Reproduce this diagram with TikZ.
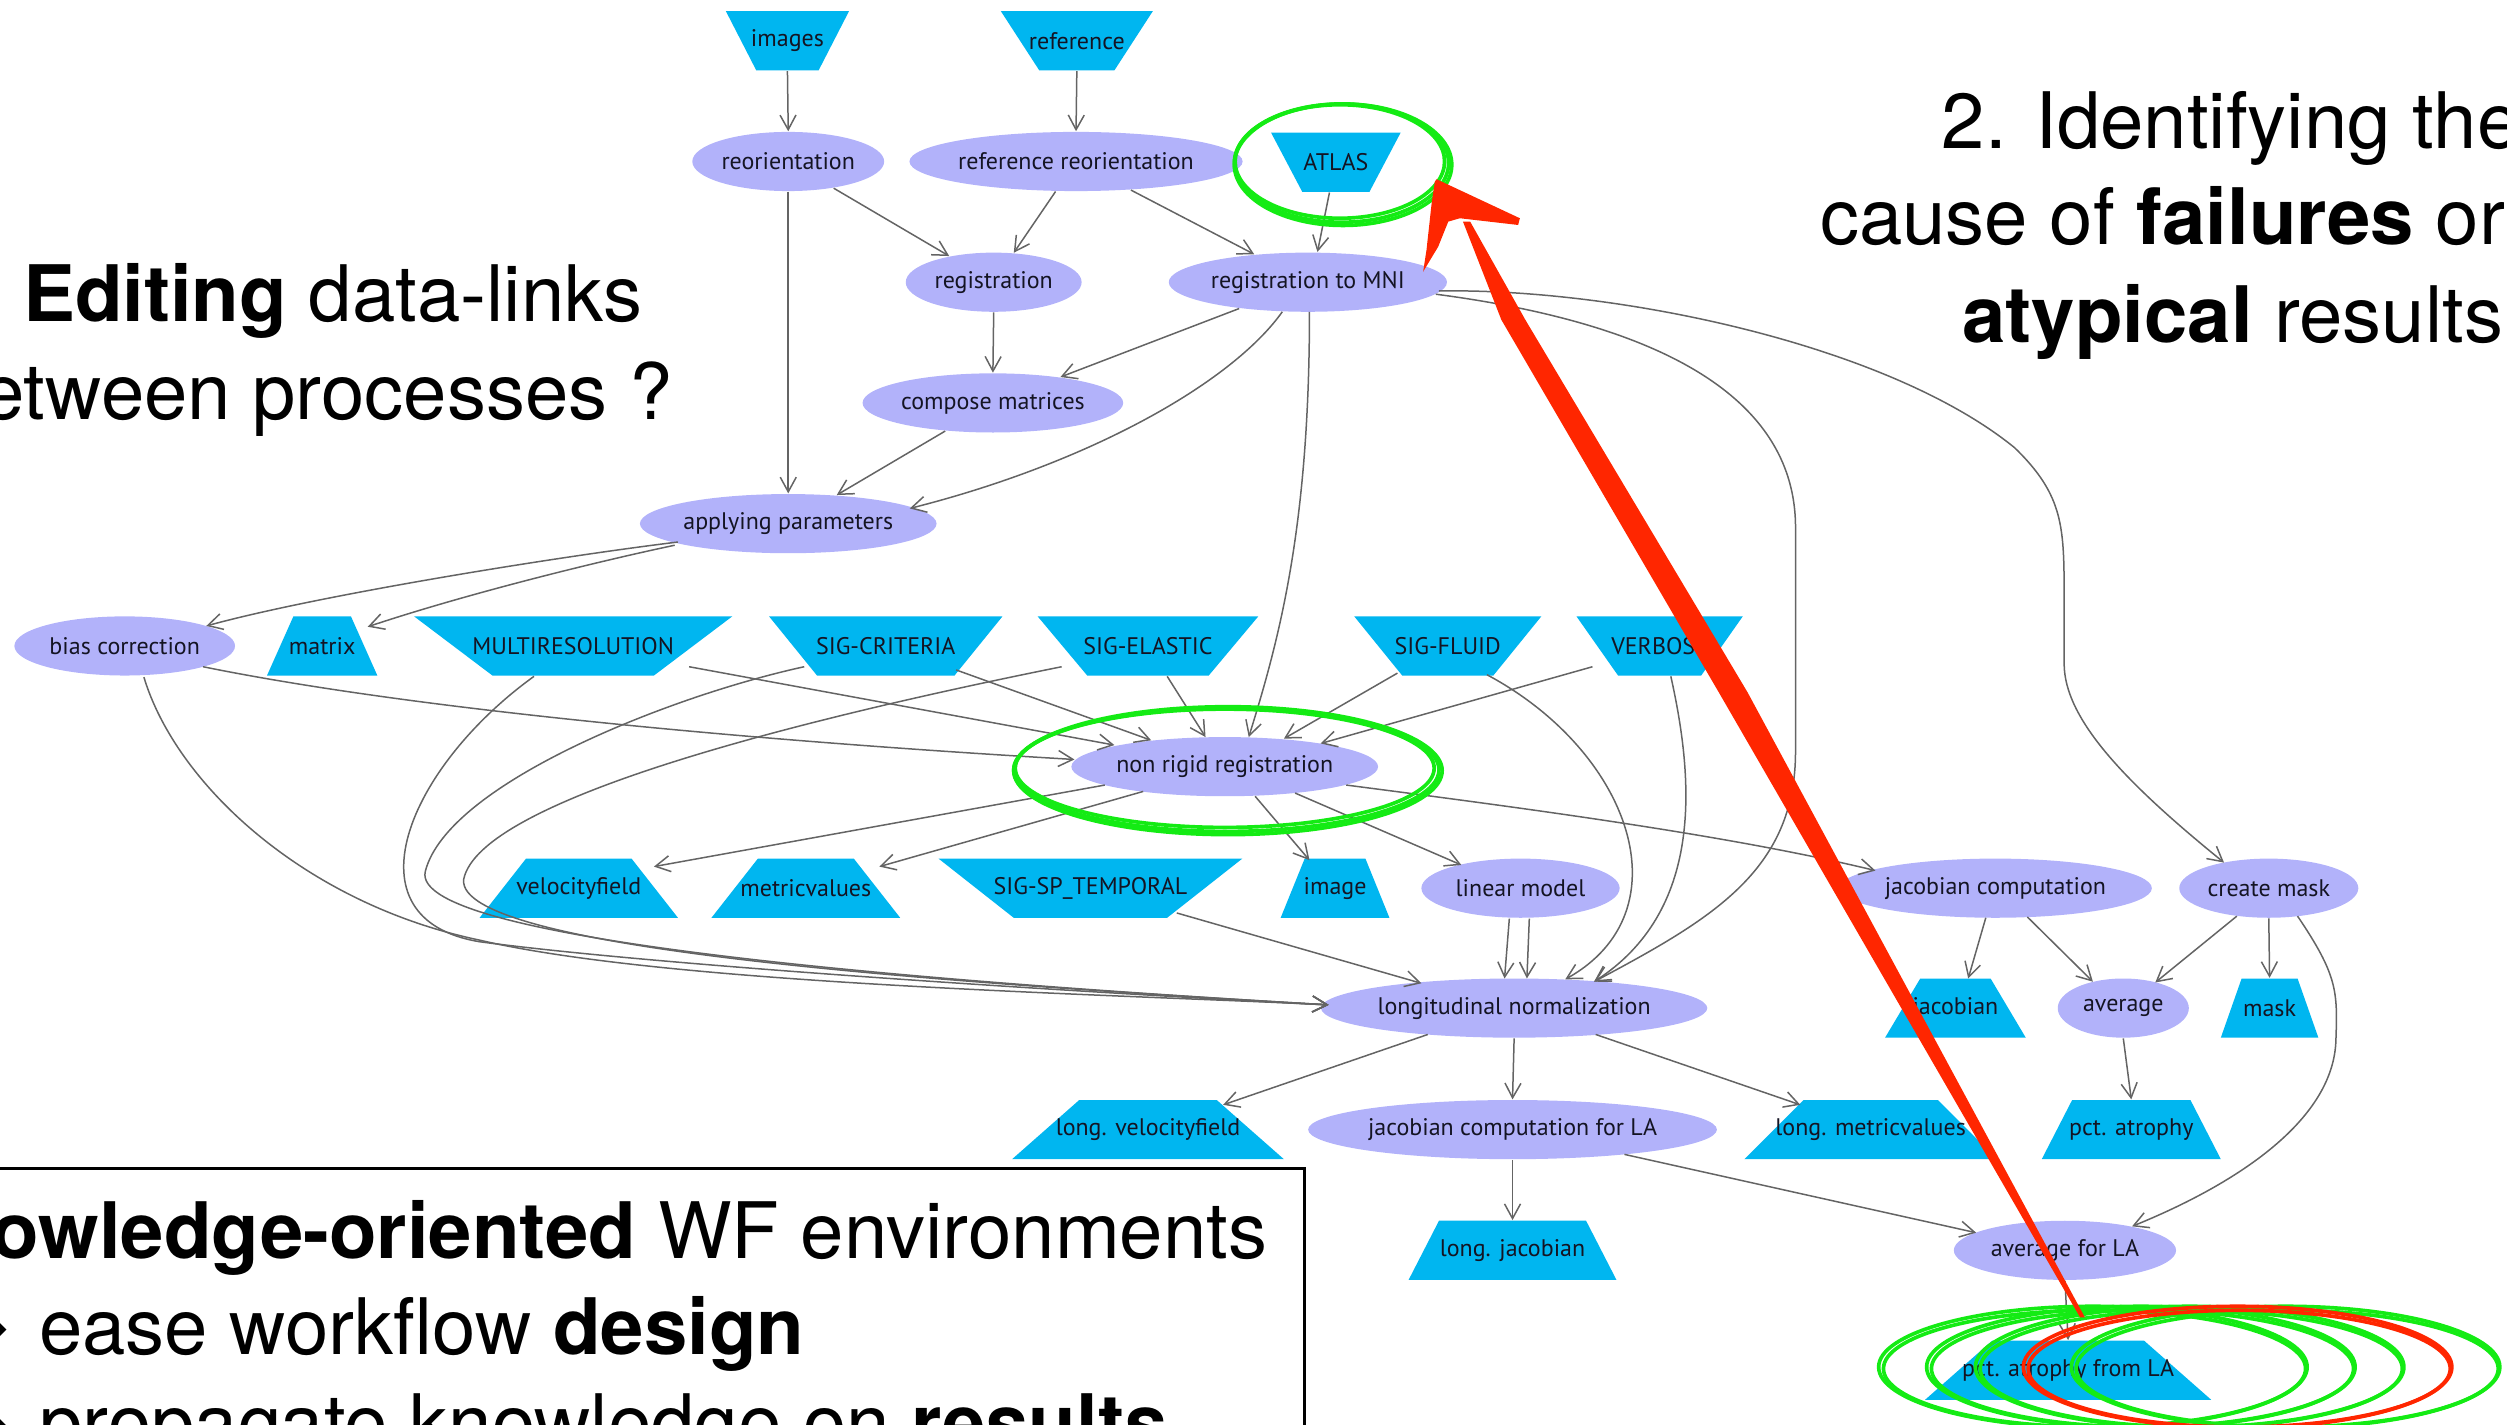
\documentclass[tikz,border=0pt]{standalone}
\usepackage{fontspec}
\setmainfont{TeX Gyre Heros}
\newfontfamily\lblfont{PT Sans}
\newfontfamily\symfont{DejaVu Sans}
\usetikzlibrary{arrows.meta,shapes.geometric}
\definecolor{procc}{RGB}{178,178,250}
\definecolor{datac}{RGB}{0,182,240}
\definecolor{edgec}{RGB}{100,100,100}
\definecolor{txtc}{RGB}{20,20,35}
\definecolor{hlgreen}{RGB}{20,235,20}
\definecolor{hlred}{RGB}{255,38,0}
\newcommand{\pxu}{0.48pt}
\newcommand{\lbl}{\lblfont\fontsize{7.2}{8}\selectfont}
\newcommand{\bigtxt}{\fontsize{23.4}{28}\selectfont}
\begin{document}
\begin{tikzpicture}[x=0.48pt,y=-0.48pt,
  pr/.style={ellipse, fill=procc, inner sep=0pt, minimum height=37*\pxu, font=\lbl, text=txtc},
  dat/.style={rectangle, fill=white, inner sep=0pt, minimum height=37*\pxu, font=\lbl, text=txtc},
  dinv/.style={dat, path picture={\fill[datac] (path picture bounding box.north west) -- (path picture bounding box.north east) -- ([xshift=-#1*\pxu]path picture bounding box.south east) -- ([xshift=#1*\pxu]path picture bounding box.south west) -- cycle;}},
  dup/.style={dat, path picture={\fill[datac] ([xshift=#1*\pxu]path picture bounding box.north west) -- ([xshift=-#1*\pxu]path picture bounding box.north east) -- (path picture bounding box.south east) -- (path picture bounding box.south west) -- cycle;}},
  lnk/.style={draw=edgec, line width=0.45pt, -{Straight Barb[length=4.4pt,width=4.8pt]}},
  bigt/.style={inner sep=0pt, font=\bigtxt},
  hlg/.style={draw=hlgreen, line width=1.1pt},
  hlr/.style={draw=hlred, line width=1.1pt}]
\useasboundingbox (0,0) rectangle (1568,891);
\clip (0,0) rectangle (1568,891);

% ---------- nodes ----------
\node[dinv=19, minimum width=77*\pxu] (images) at (492.5,25.5) {images};
\node[dinv=24, minimum width=95*\pxu] (reference) at (673.5,25.5) {reference};
\node[pr, minimum width=120*\pxu] (reor) at (493,101) {reorientation};
\node[pr, minimum width=200*\pxu] (rreor) at (673,101) {reference reorientation};
\node[dinv=19.5, minimum width=81*\pxu] (atlas) at (835.5,101.5) {ATLAS};
\node[pr, minimum width=110*\pxu] (reg) at (621.5,176.5) {registration};
\node[pr, minimum width=174*\pxu] (mni) at (818,176.5) {registration to MNI};
\node[pr, minimum width=163*\pxu] (comp) at (621,252) {compose matrices};
\node[pr, minimum width=180*\pxu] (app) at (493,327.5) {applying parameters};
\node[pr, minimum width=138*\pxu] (bias) at (78,404) {bias correction};
\node[dup=16.5, minimum width=69*\pxu] (matrix) at (201.5,404) {matrix};
\node[dinv=49, minimum width=199*\pxu] (multires) at (358.5,404) {MULTIRESOLUTION};
\node[dinv=30, minimum width=146*\pxu] (sigcrit) at (554,404) {SIG-CRITERIA};
\node[dinv=31, minimum width=138*\pxu] (sigel) at (718,404) {SIG-ELASTIC};
\node[dinv=30, minimum width=117*\pxu] (sigfl) at (905.5,404) {SIG-FLUID};
\node[dinv=26, minimum width=104*\pxu] (verb) at (1038,404) {VERBOSE};
\node[pr, minimum width=187*\pxu] (nr) at (766,479.5) {non rigid registration};
\node[dup=29, minimum width=124*\pxu] (vel) at (362,555.5) {velocityfield};
\node[dup=29, minimum width=118*\pxu] (met) at (504,555.5) {metricvalues};
\node[dinv=47, minimum width=190*\pxu] (sigsp) at (682,555.5) {SIG-SP\_TEMPORAL};
\node[dup=15, minimum width=68*\pxu] (img) at (835,555.5) {image};
\node[pr, minimum width=124*\pxu] (lin) at (951,555.5) {linear model};
\node[pr, minimum width=188*\pxu] (jac) at (1248,555.5) {jacobian computation};
\node[pr, minimum width=112*\pxu] (cmask) at (1419,555.5) {create mask};
\node[pr, minimum width=232*\pxu] (lnorm) at (947,630.5) {longitudinal normalization};
\node[dup=22, minimum width=88*\pxu] (jacd) at (1223,630.5) {jacobian};
\node[pr, minimum width=82*\pxu] (avg) at (1328,630.5) {average};
\node[dup=13, minimum width=61*\pxu] (mask) at (1419.5,630.5) {mask};
\node[dup=42, minimum width=170*\pxu] (lvel) at (718,706.5) {long. velocityfield};
\node[pr, minimum width=248*\pxu] (jla) at (946,706.5) {jacobian computation for LA};
\node[dup=37, minimum width=158*\pxu] (lmet) at (1170,706.5) {long. metricvalues};
\node[dup=19, minimum width=112*\pxu] (pct) at (1333,706.5) {pct. atrophy};
\node[dup=19, minimum width=130*\pxu] (ljac) at (946,782) {long. jacobian};
\node[pr, minimum width=139*\pxu] (avgla) at (1291.5,782) {average for LA};
\node[dup=42, minimum width=179*\pxu] (pctla) at (1293.5,857) {pct. atrophy from LA};

% ---------- connectors ----------
\draw[lnk] (images.south) -- (reor.north);
\draw[lnk] (reference.south) -- (rreor.north);
\draw[lnk] (reor) -- (reg);
\draw[lnk] (rreor) -- (reg);
\draw[lnk] (rreor) -- (mni);
\draw[lnk] ([xshift=-4*\pxu]atlas.south) -- ([xshift=6*\pxu]mni.north);
\draw[lnk] (reor.south) -- (app.north);
\draw[lnk] (reg.south) -- (comp.north);
\draw[lnk] (mni) -- (comp);
\draw[lnk] ([shift={(-16,18.5)}]mni.center) .. controls (770,240) and (680,290) .. ([shift={(76,-9.5)}]app.center);
\draw[lnk] (comp) -- (app);
\draw[lnk] ([shift={(-69,11.5)}]app.center) .. controls (350,348) and (200,372) .. ([shift={(51,-12.5)}]bias.center);
\draw[lnk] ([shift={(-71,13.5)}]app.center) .. controls (370,352) and (290,372) .. ([shift={(28.5,-12)}]matrix.center);
\draw[lnk] ([shift={(1,18.5)}]mni.center) .. controls (819,330) and (800,400) .. ([shift={(15,-18.5)}]nr.center);
\draw[lnk] ([shift={(49,13)}]bias.center) .. controls (250,442) and (450,462) .. ([shift={(-94,-4.5)}]nr.center);
\draw[lnk] ([shift={(12,19.5)}]bias.center) .. controls (110,490) and (190,565) .. (300,588) .. controls (420,616) and (700,622) .. ([shift={(-116,-2)}]lnorm.center);
\draw[lnk] ([shift={(-24.5,19)}]multires.center) .. controls (255,480) and (215,575) .. (300,589) .. controls (420,605) and (700,622) .. ([shift={(-116,-2)}]lnorm.center);
\draw[lnk] ([shift={(-51,13)}]sigcrit.center) .. controls (420,435) and (280,490) .. (266,545) .. controls (255,590) and (600,615) .. ([shift={(-116,-2)}]lnorm.center);
\draw[lnk] ([shift={(-54,13)}]sigel.center) .. controls (500,450) and (300,500) .. (290,550) .. controls (285,595) and (600,615) .. ([shift={(-116,-2)}]lnorm.center);
\draw[lnk] ([shift={(44,15)}]sigcrit.center) -- ([shift={(-46,-16.5)}]nr.center);
\draw[lnk] ([shift={(72.5,13)}]multires.center) -- ([shift={(-69,-13.5)}]nr.center);
\draw[lnk] ([shift={(12,19)}]sigel.center) -- ([shift={(-12,-18.5)}]nr.center);
\draw[lnk] ([shift={(-31.5,17)}]sigfl.center) -- ([shift={(37,-17.5)}]nr.center);
\draw[lnk] ([shift={(-42,13)}]verb.center) -- ([shift={(60,-14.5)}]nr.center);
\draw[lnk] ([shift={(24.5,18)}]sigfl.center) .. controls (1020,470) and (1055,570) .. ([shift={(32,-18)}]lnorm.center);
\draw[lnk] ([shift={(7,19)}]verb.center) .. controls (1060,490) and (1065,570) .. ([shift={(50,-16.5)}]lnorm.center);
\draw[lnk] ([shift={(80,7.5)}]mni.center) .. controls (1020,200) and (1123,240) .. (1123,330) -- (1123,470) .. controls (1123,545) and (1070,575) .. ([shift={(50,-16.5)}]lnorm.center);
\draw[lnk] ([shift={(82,5.5)}]mni.center) .. controls (1010,180) and (1180,215) .. (1260,280) .. controls (1291,310) and (1291,330) .. (1291,375) -- (1291,415) .. controls (1291,450) and (1330,490) .. ([shift={(-28,-16)}]cmask.center);
\draw[lnk] ([shift={(-75,11.5)}]nr.center) -- ([shift={(47,-13.5)}]vel.center);
\draw[lnk] ([shift={(-51,15.5)}]nr.center) -- ([shift={(46,-13.5)}]met.center);
\draw[lnk] ([shift={(19,18.5)}]nr.center) -- ([shift={(-16,-17.5)}]img.center);
\draw[lnk] ([shift={(44,16.5)}]nr.center) -- ([shift={(-37,-14.5)}]lin.center);
\draw[lnk] ([shift={(76,11.5)}]nr.center) .. controls (950,505) and (1080,522) .. ([shift={(-75,-11)}]jac.center);
\draw[lnk] ([shift={(54,15.5)}]sigsp.center) -- ([shift={(-58,-15.5)}]lnorm.center);
\draw[lnk] ([shift={(-7,19)}]lin.center) -- ([shift={(-6,-18.5)}]lnorm.center);
\draw[lnk] ([shift={(5.5,19)}]lin.center) -- ([shift={(8,-18.5)}]lnorm.center);
\draw[lnk] ([shift={(-54,16.5)}]lnorm.center) -- ([shift={(47,-15.5)}]lvel.center);
\draw[lnk] (lnorm.south) -- (jla.north);
\draw[lnk] ([shift={(51,16.5)}]lnorm.center) -- ([shift={(-44,-15.5)}]lmet.center);
\draw[lnk] (jla.south) -- (ljac.north);
\draw[lnk] ([shift={(70,15.5)}]jla.center) -- ([shift={(-55.5,-11)}]avgla.center);
\draw[lnk] ([shift={(-6,18.5)}]jac.center) -- ([shift={(8,-18.5)}]jacd.center);
\draw[lnk] ([shift={(20,18)}]jac.center) -- ([shift={(-19,-16.5)}]avg.center);
\draw[lnk] ([shift={(-20,17.5)}]cmask.center) -- ([shift={(20,-16)}]avg.center);
\draw[lnk] (cmask.south) -- (mask.north);
\draw[lnk] ([shift={(18,17.5)}]cmask.center) .. controls (1462,610) and (1462,620) .. (1461,650) .. controls (1460,700) and (1400,740) .. ([shift={(42,-15)}]avgla.center);
\draw[lnk] (avg.south) -- (pct.north);
\draw[lnk] (avgla.south) -- (pctla.north);

% ---------- big texts ----------
\node[bigt, anchor=base west] (t1) at (14,201) {\textbf{Editing} data-links};
\node[bigt, anchor=base east] (t2) at (421,262.5) {etween processes ?};
\node[bigt, anchor=base west] (t3) at (1214,93) {2. Identifying the};
\node[bigt, anchor=base west] (t4) at (1138,153) {cause of \textbf{failures} or};
\node[bigt, anchor=base west] (t5) at (1227,214) {\textbf{atypical} results};

\draw[line width=0.8pt] (-5,731) rectangle (816,905);
\node[bigt, anchor=base east] (b1) at (793,787) {\textbf{owledge-oriented} WF environments};
\node[bigt, anchor=base east, font=\symfont\bigtxt] (a2) at (7,847) {➔};
\node[bigt, anchor=base west] (b2) at (24,847) {ease workflow \textbf{design}};
\node[bigt, anchor=base east, font=\symfont\bigtxt] (a3) at (7,907) {➔};
\node[bigt, anchor=base west] (b3) at (24,907) {propagate knowledge on \textbf{results}};

% ---------- highlights ----------
\draw[hlg] (839,102) ellipse [x radius=67, y radius=37];
\draw[hlg] (838,101) ellipse [x radius=65.5, y radius=35.5];
\draw[hlg] (840,103) ellipse [x radius=68, y radius=38];
\draw[hlg] (767,481.5) ellipse [x radius=133, y radius=38.5];
\draw[hlg] (766,480.5) ellipse [x radius=131, y radius=37];
\draw[hlg] (768,482) ellipse [x radius=134, y radius=40];
\foreach \cx in {1309,1339,1369.5,1429.5}{
  \draw[hlg] (\cx,855) ellipse [x radius=134, y radius=38];
  \draw[hlg] (\cx+1,856) ellipse [x radius=132, y radius=36.5];
}
\draw[hlr] (1399.5,855) ellipse [x radius=134, y radius=38];
\draw[hlr] (1400.5,856) ellipse [x radius=132, y radius=36.5];

% ---------- red arrow ----------
\coordinate (rtip) at (898.5,112.1);
\coordinate (rbase) at (1304,824);
\fill[hlred] (rtip) -- (950.6,136.5) -- (949.5,140.7) -- (913.1,136.5) -- (905.8,138.6) -- (899.5,154.3) -- (890.1,169.9) -- (892.2,156.3) -- (895.4,127.2) -- (897.4,113.6) -- cycle;
\fill[hlred] (915,138.6) -- (919.5,138.6) -- (954,200) -- (1093,433) -- (rbase) -- (1301,824) -- (1075,433) -- (939,200) -- cycle;
\end{tikzpicture}
\end{document}
